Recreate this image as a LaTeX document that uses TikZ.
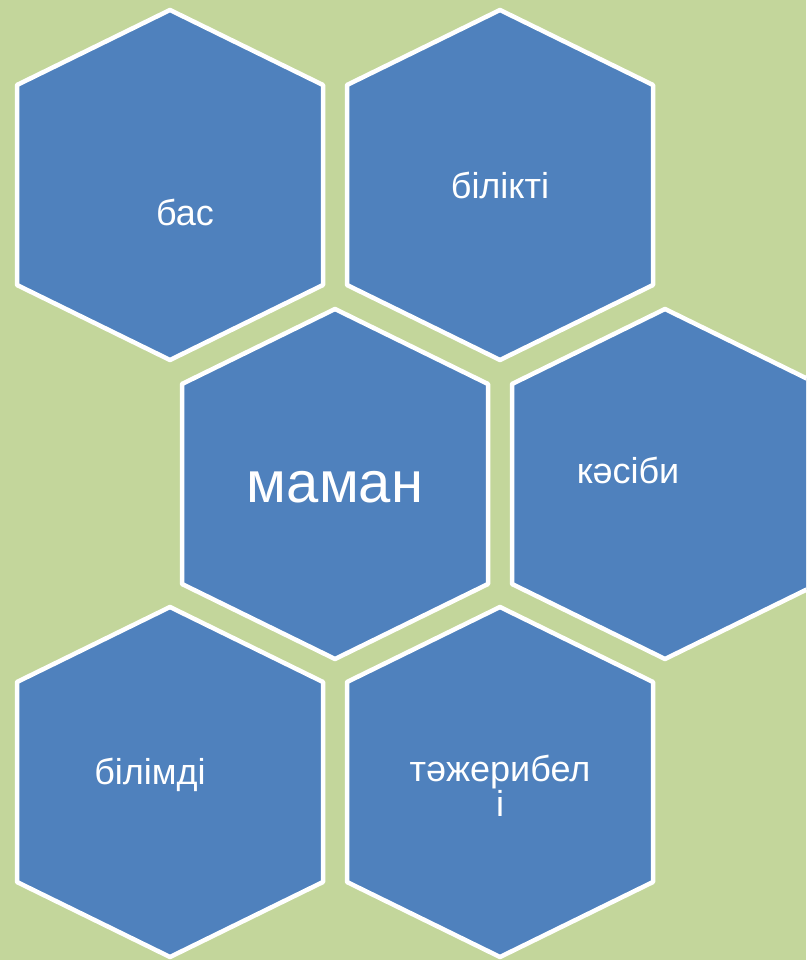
\documentclass[tikz,border=0pt]{standalone}
\usepackage{fontspec}
\setmainfont{Liberation Sans}
\definecolor{bggreen}{RGB}{195,214,155}
\definecolor{hexblue}{RGB}{79,129,189}
\tikzset{
  hexcell/.style={fill=hexblue, draw=white, line width=4.5pt, line join=round},
  hexlabel/.style={text=white, font=\fontsize{36}{36}\selectfont, align=center, inner sep=0pt},
  biglabel/.style={text=white, font=\fontsize{58}{60}\selectfont, inner sep=0pt}
}
\newcommand\drawhexcell[2]{%
  \path[hexcell] (#1,-#2) ++(0,175) -- ++(153,-75) -- ++(0,-200) -- ++(-153,-75) -- ++(-153,75) -- ++(0,200) -- cycle;
}
\begin{document}
\begin{tikzpicture}[x=1pt,y=1pt]
\fill[bggreen] (0,0) rectangle (806,-960);
\useasboundingbox (0,0) rectangle (806,-960);
\begin{scope}
\clip (0,0) rectangle (806,-960);
\drawhexcell{170}{185}
\drawhexcell{500}{185}
\drawhexcell{335}{484}
\drawhexcell{665}{484}
\drawhexcell{170}{782}
\drawhexcell{500}{782}
\end{scope}
\node[hexlabel] (bas) at (185,-212) {бас};
\node[hexlabel] (bilikti) at (500,-185) {білікті};
\node[biglabel] (maman) at (335,-487) {маман};
\node[hexlabel] (kasibi) at (628,-470) {кәсіби};
\node[hexlabel] (bilimdi) at (150,-775) {білімді};
\node[hexlabel, font=\fontsize{36}{33}\selectfont] (tazheribeli) at (500,-786) {тәжерибел\\і};
\end{tikzpicture}
\end{document}
